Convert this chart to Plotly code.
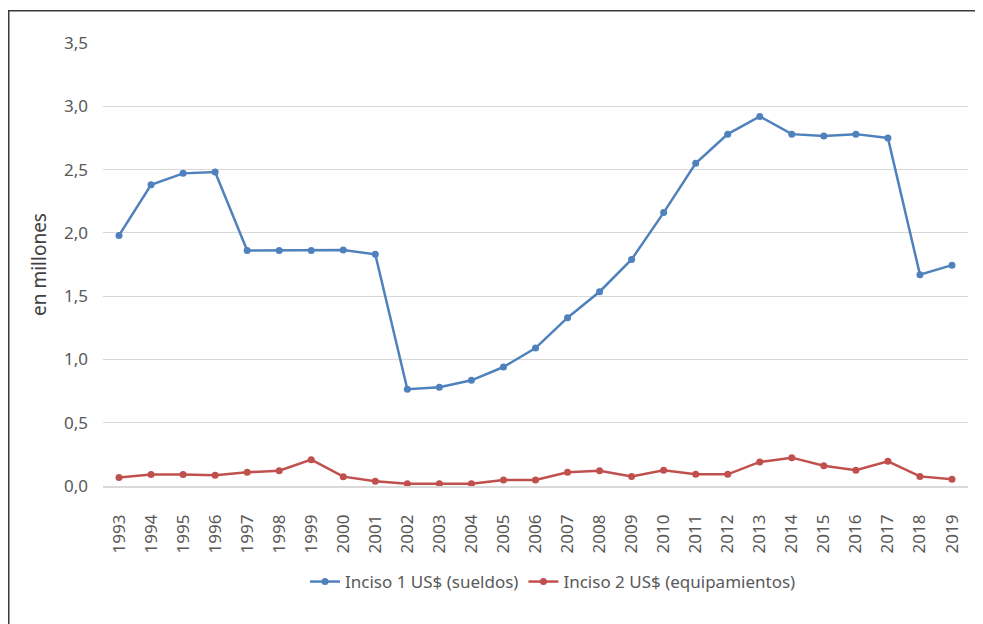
import plotly.graph_objects as go

years = [str(y) for y in range(1993, 2020)]
inciso1 = [1.98, 2.38, 2.47, 2.48, 1.86, 1.86, 1.86, 1.865, 1.83, 0.765, 0.78, 0.835,
           0.94, 1.09, 1.33, 1.535, 1.79, 2.16, 2.55, 2.78, 2.92, 2.78, 2.765, 2.78,
           2.75, 1.67, 1.745]
inciso2 = [0.068, 0.09, 0.09, 0.085, 0.108, 0.121, 0.208, 0.074, 0.037, 0.018, 0.018,
           0.018, 0.047, 0.047, 0.108, 0.121, 0.076, 0.124, 0.092, 0.092, 0.19, 0.224,
           0.16, 0.124, 0.195, 0.076, 0.053]
yticks = [0, 0.5, 1.0, 1.5, 2.0, 2.5, 3.0, 3.5]
ytick_text = ["0,0", "0,5", "1,0", "1,5", "2,0", "2,5", "3,0", "3,5"]

FONT = "Noto Sans"
OFF = 8  # browser body margin
W, H = 983 - OFF, 624 - OFF
L, R, T, B = 103 - OFF, 15, 43 - OFF, 138
pw, ph = W - L - R, H - T - B

def px2paper_x(px):
    return (px - OFF - L) / pw

def px2paper_y(py):
    return (H - B - (py - OFF)) / ph

fig = go.Figure()
fig.add_trace(go.Scatter(x=years, y=inciso1, mode="lines+markers",
                         name="Inciso 1 US$ (sueldos)",
                         line=dict(color="#4F81BD", width=2.5),
                         marker=dict(size=7, color="#4F81BD")))
fig.add_trace(go.Scatter(x=years, y=inciso2, mode="lines+markers",
                         name="Inciso 2 US$ (equipamientos)",
                         line=dict(color="#C0504D", width=2.5),
                         marker=dict(size=7, color="#C0504D")))

fig.update_layout(
    width=W, height=H,
    margin=dict(l=L, r=R, t=T, b=B),
    paper_bgcolor="white", plot_bgcolor="white",
    font=dict(family=FONT, size=17, color="#595959"),
    showlegend=True,
    legend=dict(orientation="h", x=px2paper_x(553), xanchor="center",
                y=px2paper_y(582), yanchor="middle",
                font=dict(family=FONT, size=17, color="#595959"),
                itemwidth=30),
    xaxis=dict(type="category", range=[-0.5, 26.5], tickangle=-90,
               showgrid=False, showline=True, linecolor="#D9D9D9", linewidth=1.5,
               ticks="", ticklabelstandoff=20,
               tickfont=dict(family=FONT, size=17, color="#595959")),
    yaxis=dict(range=[0, 3.5], tickvals=yticks, ticktext=ytick_text,
               showgrid=True, gridcolor="#D9D9D9", gridwidth=1,
               zeroline=False, showline=False, ticks="", ticklabelstandoff=14,
               tickfont=dict(family=FONT, size=17, color="#595959"),
               title=dict(text="en millones", standoff=12,
                          font=dict(family=FONT, size=19, color="#404040"))),
    shapes=[
        dict(type="line", xref="paper", yref="paper",
             x0=px2paper_x(8.75), x1=px2paper_x(8.75), y0=px2paper_y(10), y1=px2paper_y(630),
             line=dict(color="#3a3a3a", width=1.5)),
        dict(type="line", xref="paper", yref="paper",
             x0=px2paper_x(8), x1=px2paper_x(990), y0=px2paper_y(10.75), y1=px2paper_y(10.75),
             line=dict(color="#3a3a3a", width=1.5)),
    ],
)

fig.write_html("out.html")
